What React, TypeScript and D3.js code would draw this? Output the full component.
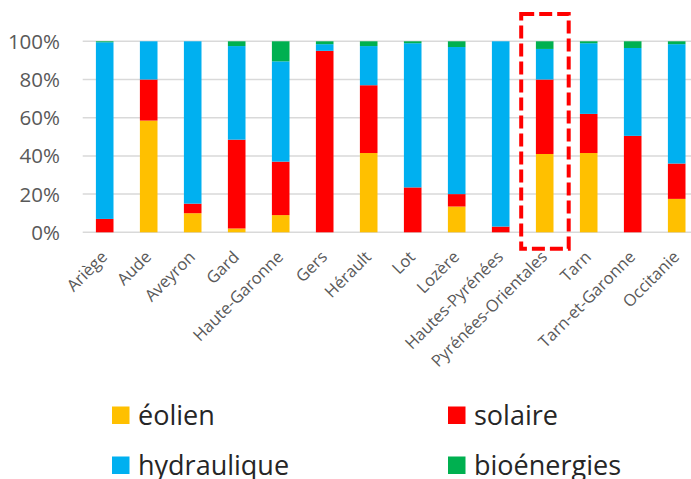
import React from "react";
import * as d3 from "d3";

const categories = [
  "Ariège", "Aude", "Aveyron", "Gard", "Haute-Garonne", "Gers", "Hérault",
  "Lot", "Lozère", "Hautes-Pyrénées", "Pyrénées-Orientales", "Tarn",
  "Tarn-et-Garonne", "Occitanie",
];
const eolien =      [0,  58.5, 10, 2,    9,    0,   41.5, 0,    13.5, 0,  41, 41.5, 0,    17.5];
const solaire =     [7,  21.5, 5,  46.5, 28,   95,  35.5, 23.5, 6.5,  3,  39, 20.5, 50.5, 18.5];
const hydraulique = [92.5, 20, 85, 49,   52.5, 3.5, 20.5, 75.5, 77,   97, 16, 37,   46,   62.5];
const bioenergies = [0.5, 0,   0,  2.5,  10.5, 1.5, 2.5,  1,    3,    0,  4,  1,    3.5,  1.5];
const seriesNames = ["éolien", "solaire", "hydraulique", "bioénergies"];
const seriesColors = ["#FFC000", "#FF0000", "#00B0F0", "#00B050"];
const yTicks = [0, 0.2, 0.4, 0.6, 0.8, 1];
const highlighted = "Pyrénées-Orientales";

export default function App() {
  const W = 691, H = 479;
  const x = d3.scaleBand<string>().domain(categories).range([82.7, 698.7]).paddingInner(0.6).paddingOuter(0.3);
  const y = d3.scaleLinear().domain([0, 1]).range([232.3, 41.3]);
  const rows = categories.map((c, i) => {
    const vals = [eolien[i], solaire[i], hydraulique[i], bioenergies[i]];
    const tot = d3.sum(vals);
    const o: any = { cat: c };
    seriesNames.forEach((s, k) => (o[s] = vals[k] / tot));
    return o;
  });
  const stacked = d3.stack().keys(seriesNames)(rows);
  const fmt = d3.format(".0%");
  const hx = (x(highlighted) as number) + x.bandwidth() / 2;

  return (
    <svg width={W} height={H} style={{ position: "absolute", left: 0, top: 0, background: "#fff" }}
      fontFamily="'Open Sans', sans-serif">
      {yTicks.map((t) => (
        <g key={t}>
          <line x1={82.7} x2={W} y1={y(t)} y2={y(t)} stroke="#d9d9d9" strokeWidth={1.5} />
          <text x={60} y={y(t) + 7.5} textAnchor="end" fontSize={20.5} fill="#595959">{fmt(t)}</text>
        </g>
      ))}
      {stacked.map((layer, k) => (
        <g key={layer.key} fill={seriesColors[k]}>
          {layer.map((d, i) => (
            <rect key={i} x={x(categories[i])} width={x.bandwidth()} y={y(d[1])}
              height={Math.max(0, y(d[0]) - y(d[1]))} />
          ))}
        </g>
      ))}
      {categories.map((c) => {
        const cx = (x(c) as number) + x.bandwidth() / 2;
        return (
          <text key={c} transform={`translate(${cx + 3.5},258) rotate(-45)`} textAnchor="end"
            fontSize={16.5} fill="#595959">{c}</text>
        );
      })}
      <rect x={hx - 23.5} y={14} width={47.5} height={234.7} fill="none" stroke="#FF0000"
        strokeWidth={4} strokeDasharray="13 5" />
      {seriesNames.map((s, k) => {
        const col = k % 2, row = Math.floor(k / 2);
        const sx = col === 0 ? 112 : 448;
        const base = row === 0 ? 424.5 : 474.5;
        return (
          <g key={s}>
            <rect x={sx} y={base - 18} width={17.5} height={17.5} fill={seriesColors[k]} />
            <text x={sx + 26} y={base} fontSize={27} fill="#262626">{s}</text>
          </g>
        );
      })}
    </svg>
  );
}
